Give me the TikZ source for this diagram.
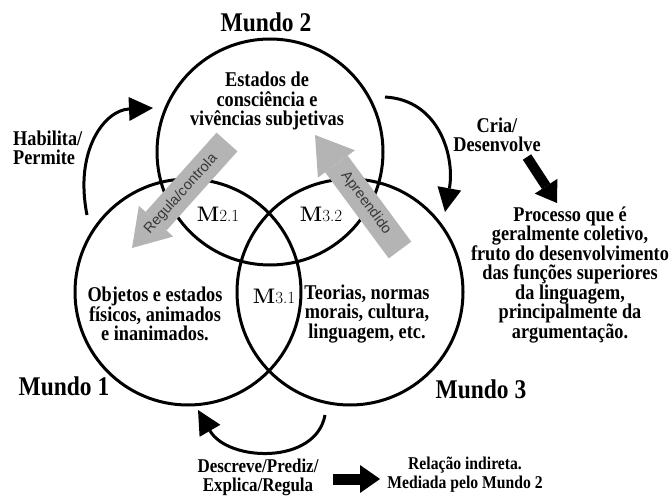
\documentclass[tikz,border=0pt]{standalone}
\usepackage{fontspec}
\newfontfamily\tnr{Liberation Serif}[FakeStretch=0.87]
\newfontfamily\lsans{Liberation Sans}
\usetikzlibrary{arrows.meta}
\definecolor{arrgray}{RGB}{180,180,180}
\definecolor{txtgray}{RGB}{55,55,55}
\begin{document}
\begin{tikzpicture}[x=1pt,y=-1pt,
  world/.style={draw, circle, line width=3pt, minimum size=226pt, inner sep=0pt},
  body/.style={font=\tnr\bfseries\fontsize{21}{19.5}\selectfont, align=center, inner sep=0pt},
  bottomtext/.style={font=\tnr\bfseries\fontsize{19.5}{19}\selectfont, align=center, inner sep=0pt},
  worldlabel/.style={font=\tnr\bfseries\fontsize{27}{30}\selectfont, anchor=base, inner sep=0pt},
  mlabel/.style={font=\bfseries\fontsize{21}{24}\selectfont, anchor=base, inner sep=0pt},
  grayarrow/.style={draw=arrgray, line width=28pt, -{Triangle[length=36pt,width=46pt,line width=0pt]}},
  arrowtext/.style={font=\lsans\fontsize{14.5}{16}\selectfont, text=txtgray, inner sep=0pt},
  curvearrow/.style={line width=3pt, -{Triangle[length=24pt,width=24pt,line width=0pt]}},
  blockarrow/.style={line width=10pt, -{Triangle[length=20pt,width=27pt,line width=0pt]}},
]
\fill[white] (0,0) rectangle (669,497);
\useasboundingbox (0,0) rectangle (669,497);

% the three worlds
\node[world] (w2) at (270,152) {};
\node[world] (w1) at (188,292) {};
\node[world] (w3) at (350,292) {};

% grey arrows
\coordinate (rtail) at (227,142); \coordinate (rtip) at (132,248);
\coordinate (atail) at (400,250); \coordinate (atip) at (315,135);
\draw[grayarrow] (rtail) -- (rtip);
\draw[grayarrow] (atail) -- (atip);
\node[arrowtext, rotate=48] (regula) at (181,194) {Regula/controla};
\node[arrowtext, rotate=-53.5] (apre) at (366,203) {Apreendido};

% world labels
\node[worldlabel] (lw2) at (266,32) {Mundo 2};
\node[worldlabel] (lw1) at (64,395) {Mundo 1};
\node[worldlabel] (lw3) at (481,398) {Mundo 3};

% contents
\node[body] (t2) at (267,101) {Estados de\\consciência e\\vivências subjetivas};
\node[body] (t1) at (155,314) {Objetos e estados\\físicos, animados\\e inanimados.};
\node[body] (t3) at (367,314) {Teorias, normas\\morais, cultura,\\linguagem, etc.};

% intersections
\node[mlabel] (m21) at (218,222) {M{\mdseries\fontsize{17}{18}\selectfont 2.1}};
\node[mlabel] (m32) at (321,222) {M{\mdseries\fontsize{17}{18}\selectfont 3.2}};
\node[mlabel] (m31) at (274,303) {M{\mdseries\fontsize{17}{18}\selectfont 3.1}};

% Habilita arrow
\node[body, align=left, anchor=west] (hab) at (13,148) {Habilita/\\Permite};
\coordinate (h0) at (87,215); \coordinate (h1) at (153,108);
\draw[curvearrow] (h0) .. controls (74,150) and (105,110) .. (h1);

% Cria arrow
\node[body] (cria) at (497,135) {Cria/\\Desenvolve};
\coordinate (c0) at (385,97); \coordinate (c1) at (445,212);
\draw[curvearrow] (c0) .. controls (440,100) and (455,158) .. (c1);

\coordinate (p0) at (527,157); \coordinate (p1) at (557,203);
\draw[blockarrow] (p0) -- (p1);
\node[body] (proc) at (570,275) {Processo que é\\geralmente coletivo,\\fruto do desenvolvimento\\das funções superiores\\da linguagem,\\principalmente da\\argumentação.};

% bottom arrow
\coordinate (d0) at (325,415); \coordinate (d1) at (198,410);
\draw[curvearrow] (d0) .. controls (316,465) and (228,462) .. (d1);
\node[bottomtext] (desc) at (258,477) {Descreve/Prediz/\\Explica/Regula};
\coordinate (r0) at (333,479); \coordinate (r1) at (380,479);
\draw[blockarrow, line width=11pt, -{Triangle[length=20pt,width=28pt,line width=0pt]}] (r0) -- (r1);
\node[bottomtext, font=\tnr\bfseries\fontsize{18}{19}\selectfont] (rel) at (465,475) {Relação indireta.\\Mediada pelo Mundo 2};
\end{tikzpicture}
\end{document}
